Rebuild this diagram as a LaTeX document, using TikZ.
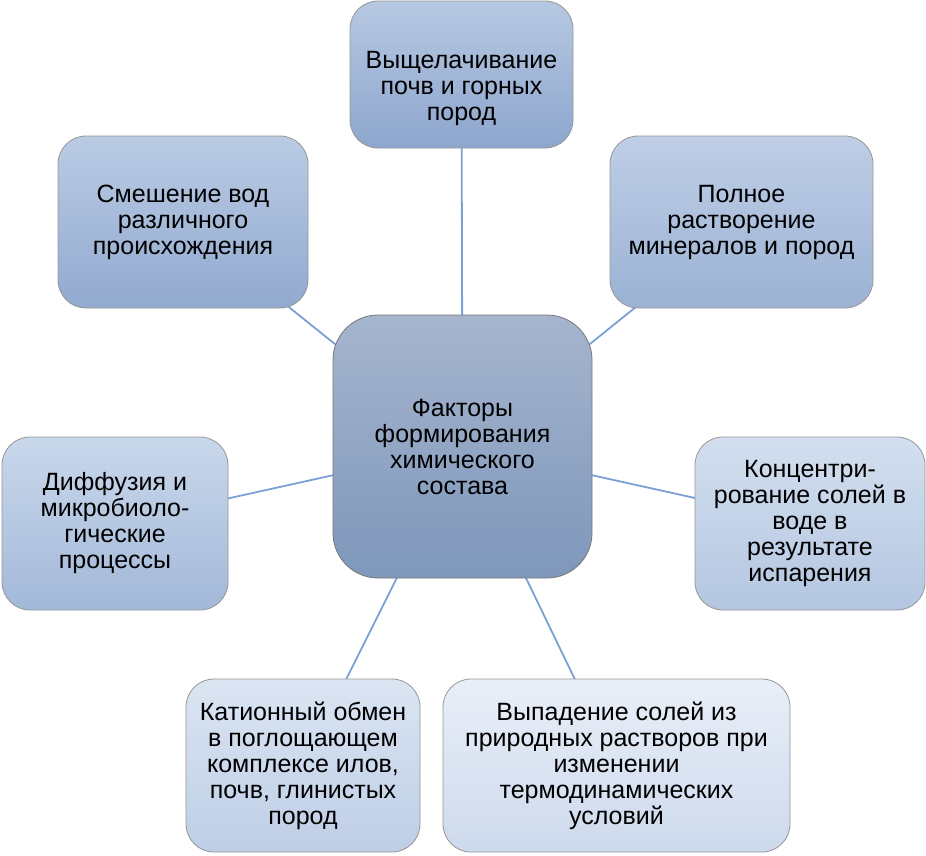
\documentclass[tikz,border=0pt]{standalone}
\usepackage{fontspec}
\setmainfont{Liberation Sans}
\usepackage{xcolor}
\usepackage{tikz}
\usetikzlibrary{backgrounds}
\definecolor{linkblue}{RGB}{122,160,214}
\definecolor{edgegray}{RGB}{150,150,150}
\definecolor{ctrtop}{RGB}{166,181,206}
\definecolor{ctrbot}{RGB}{126,151,187}
\definecolor{topA}{RGB}{183,200,226}
\definecolor{topB}{RGB}{141,166,205}
\definecolor{trA}{RGB}{191,206,230}
\definecolor{trB}{RGB}{155,178,212}
\definecolor{rtA}{RGB}{211,223,239}
\definecolor{rtB}{RGB}{180,198,225}
\definecolor{brA}{RGB}{233,239,248}
\definecolor{brB}{RGB}{205,217,236}
\definecolor{blA}{RGB}{219,229,243}
\definecolor{blB}{RGB}{190,206,230}
\definecolor{ltA}{RGB}{201,215,235}
\definecolor{ltB}{RGB}{163,185,217}
\definecolor{tlA}{RGB}{186,203,228}
\definecolor{tlB}{RGB}{146,170,208}

\begin{document}
\begin{tikzpicture}[
    x=1pt, y=-1pt,
    boxfont/.style={font=\fontsize{25}{26}\selectfont},
    factor/.style={draw=edgegray, line width=0.8pt, rounded corners=28pt,
        inner sep=0pt, align=center, boxfont},
    hub/.style={factor, rounded corners=45pt, draw=edgegray!80!black},
    link/.style={linkblue, line width=1.8pt}
]
\useasboundingbox (0,0) rectangle (926,855);

% Center
\node[hub, top color=ctrtop, bottom color=ctrbot,
      minimum width=259pt, minimum height=263pt] (ctr) at (462.5,446.5)
    {Факторы\\формирования\\химического\\состава};

% Factors, clockwise from top
\node[factor, top color=topA, bottom color=topB,
      minimum width=223pt, minimum height=147pt,
      label={[yshift=-14pt, align=center, boxfont]center:Выщелачивание\\почв и горных\\пород}]
    (leach) at (461.5,74.5) {};
\node[factor, top color=trA, bottom color=trB,
      minimum width=263pt, minimum height=172pt] (dissolve) at (741.5,222)
    {Полное\\растворение\\минералов и пород};
\node[factor, top color=rtA, bottom color=rtB,
      minimum width=230pt, minimum height=173pt] (evap) at (810,523.5)
    {Концентри-\\рование солей в\\воде в\\результате\\испарения};
\node[factor, top color=brA, bottom color=brB,
      minimum width=347pt, minimum height=173pt] (precip) at (616.5,765.5)
    {Выпадение солей из\\природных растворов при\\изменении\\термодинамических\\условий};
\node[factor, top color=blA, bottom color=blB,
      minimum width=234pt, minimum height=173pt] (cation) at (303,765.5)
    {Катионный обмен\\в поглощающем\\комплексе илов,\\почв, глинистых\\пород};
\node[factor, top color=ltA, bottom color=ltB,
      minimum width=226pt, minimum height=173pt] (diffus) at (115,523.5)
    {Диффузия и\\микробиоло-\\гические\\процессы};
\node[factor, top color=tlA, bottom color=tlB,
      minimum width=250pt, minimum height=172pt] (mixing) at (183,222)
    {Смешение вод\\различного\\происхождения};

% Links
\begin{scope}[on background layer]
\foreach \n in {leach, dissolve, evap, precip, cation, diffus, mixing}
    \draw[link] (ctr.center) -- (\n.center);
\end{scope}

\end{tikzpicture}
\end{document}
